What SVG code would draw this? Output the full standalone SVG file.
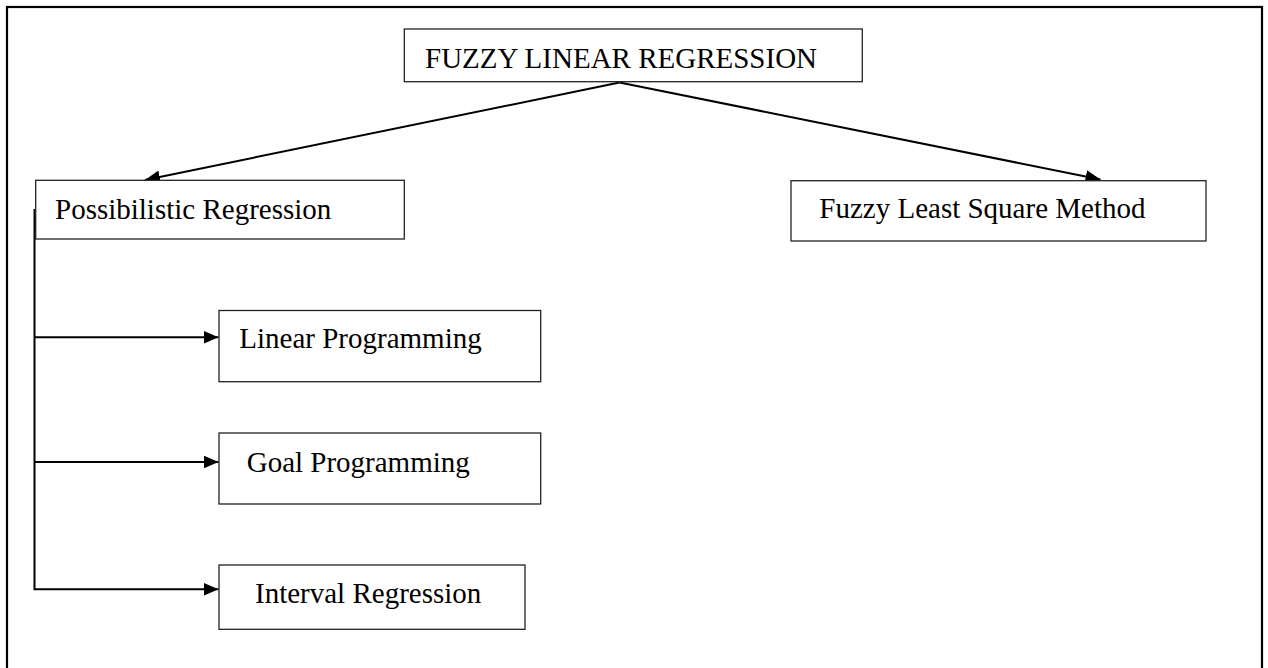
<svg xmlns="http://www.w3.org/2000/svg" width="1268" height="668" viewBox="0 0 1268 668">
<style>
.box{fill:#fff;stroke:#222;stroke-width:1.3}
.lbl{font-family:"Liberation Serif","Times New Roman",serif;font-size:29px;fill:#000}
.con{fill:none;stroke:#000;stroke-width:2}
</style>
<defs>
<marker id="arr" markerUnits="userSpaceOnUse" markerWidth="16" markerHeight="14" refX="15" refY="6.5" orient="auto">
<path d="M0,0 L15,6.5 L0,13 z" fill="#000"/>
</marker>
</defs>
<rect x="0" y="0" width="1268" height="668" fill="#fff"/>
<rect id="frame" x="7" y="7" width="1255" height="700" fill="none" stroke="#000" stroke-width="2.2"/>
<g id="connectors">
<path class="con" d="M619.5,82.5 L145,180" marker-end="url(#arr)"/>
<path class="con" d="M619.5,82.5 L1100.5,179.5" marker-end="url(#arr)"/>
<path class="con" d="M34.5,209 L34.5,589.3 L218.5,589.3" marker-end="url(#arr)"/>
<path class="con" d="M34.5,337.3 L218.5,337.3" marker-end="url(#arr)"/>
<path class="con" d="M34.5,462 L218.5,462" marker-end="url(#arr)"/>
</g>
<g id="n-root">
<rect class="box" x="404.3" y="29" width="458" height="52.7"/>
<text class="lbl" x="425" y="68.3">FUZZY LINEAR REGRESSION</text>
</g>
<g id="n-possibilistic">
<rect class="box" x="35.7" y="180.3" width="368.6" height="58.7"/>
<text class="lbl" x="55" y="219">Possibilistic Regression</text>
</g>
<g id="n-fuzzyls">
<rect class="box" x="791" y="180.7" width="415" height="60.3"/>
<text class="lbl" x="819.3" y="218.3">Fuzzy Least Square Method</text>
</g>
<g id="n-linear">
<rect class="box" x="219" y="310.5" width="321.7" height="71.2"/>
<text class="lbl" x="239.3" y="347.7">Linear Programming</text>
</g>
<g id="n-goal">
<rect class="box" x="219" y="433" width="321.7" height="71"/>
<text class="lbl" x="246.7" y="471.7">Goal Programming</text>
</g>
<g id="n-interval">
<rect class="box" x="219" y="565" width="306" height="64.3"/>
<text class="lbl" x="255" y="602.7">Interval Regression</text>
</g>
</svg>
